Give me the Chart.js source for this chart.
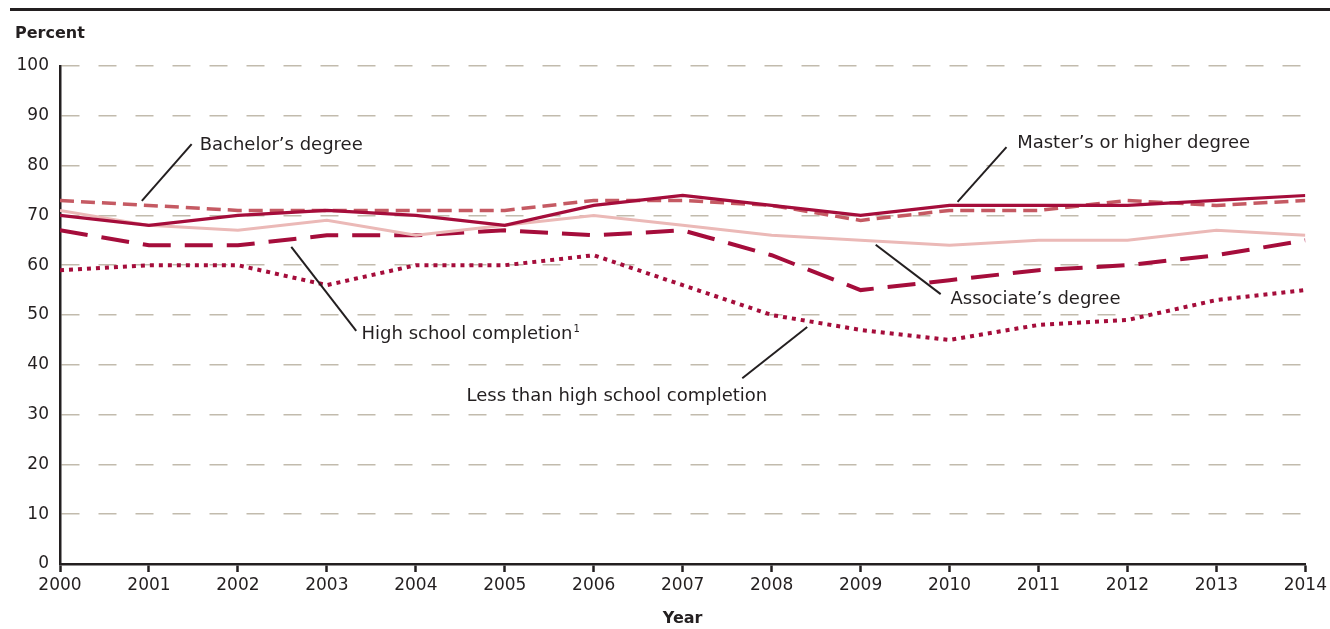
<!DOCTYPE html>
<html><head><meta charset="utf-8">
<script src="https://cdn.jsdelivr.net/npm/chart.js@4/dist/chart.umd.min.js"></script>
<style>html,body{margin:0;padding:0;background:#fff}#wrap{width:1330px;height:629px;position:relative}</style>
</head><body><div id="wrap"><canvas id="c" width="1330" height="629"></canvas></div>
<script>
const years = [2000,2001,2002,2003,2004,2005,2006,2007,2008,2009,2010,2011,2012,2013,2014];
const masters    = [70,68,70,71,70,68,72,74,72,70,72,72,72,73,74];
const bachelors  = [73,72,71,71,71,71,73,73,72,69,71,71,73,72,73];
const associates = [71,68,67,69,66,68,70,68,66,65,64,65,65,67,66];
const highSchool = [67,64,64,66,66,67,66,67,62,55,57,59,60,62,65];
const lessThanHS = [59,60,60,56,60,60,62,56,50,47,45,48,49,53,55];
const yTickValues = [0,10,20,30,40,50,60,70,80,90,100];
const yAxisLabel = 'Percent';
const xAxisLabel = 'Year';
// label text, anchor (year, value), leader line from/to (year, value)
const noteTexts = ["Bachelor\u2019s degree","High school completion","Master\u2019s or higher degree","Associate\u2019s degree","Less than high school completion"];
const noteAnchors = [[2001.57,84.1],[2003.39,46.2],[2010.76,84.5],[2010.01,53.2],[2004.57,33.7]];
const noteLines = [[2001.48,84.3,2000.92,72.9],[2002.60,63.7,2003.33,46.8],[2010.64,83.7,2010.09,72.7],[2009.17,64.1,2009.90,54.2],[2008.40,47.6,2007.67,37.3]];
const noteSup = ["","1","","",""];

const INK = '#231f20';
const FONT = '"DejaVu Sans", sans-serif';

const toXY = arr => years.map((yr,i)=>({x:yr,y:arr[i]}));

const notesPlugin = {
  id:'notes',
  afterDraw(chart){
    const {ctx, scales:{x,y}} = chart;
    ctx.save();
    ctx.fillStyle = INK;
    ctx.fillRect(10,8,1320,3);
    ctx.font = 'bold 16px ' + FONT;
    ctx.textBaseline = 'middle';
    ctx.textAlign = 'left';
    ctx.fillText(yAxisLabel, 15, 34);
    ctx.textAlign = 'center';
    ctx.fillText(xAxisLabel, (x.left+x.right)/2, 619);
    ctx.strokeStyle = INK; ctx.lineWidth = 2;
    noteLines.forEach(l=>{
      ctx.beginPath();
      ctx.moveTo(x.getPixelForValue(l[0]), y.getPixelForValue(l[1]));
      ctx.lineTo(x.getPixelForValue(l[2]), y.getPixelForValue(l[3]));
      ctx.stroke();
    });
    ctx.textAlign = 'left';
    noteTexts.forEach((t,i)=>{
      const px = x.getPixelForValue(noteAnchors[i][0]);
      const py = y.getPixelForValue(noteAnchors[i][1]);
      ctx.font = '18px ' + FONT;
      ctx.fillStyle = INK;
      ctx.fillText(t, px, py);
      if (noteSup[i]) {
        const w = ctx.measureText(t).width;
        ctx.font = '10px ' + FONT;
        ctx.fillText(noteSup[i], px + w + 1, py - 5);
      }
    });
    ctx.restore();
  }
};

new Chart(document.getElementById('c'), {
  type:'line',
  data:{ datasets:[
    {label:"Master's or higher degree", data:toXY(masters), borderColor:'#a50d3b', borderWidth:3.2},
    {label:"Bachelor's degree", data:toXY(bachelors), borderColor:'#c55a63', borderWidth:3.5, borderDash:[14,7]},
    {label:"Associate's degree", data:toXY(associates), borderColor:'#ebb9b7', borderWidth:3},
    {label:"High school completion", data:toXY(highSchool), borderColor:'#a50d3b', borderWidth:4, borderDash:[28,14]},
    {label:"Less than high school completion", data:toXY(lessThanHS), borderColor:'#a50d3b', borderWidth:4, borderDash:[4,5]}
  ]},
  options:{
    responsive:false, animation:false,
    layout:{padding:{top:66,right:23,bottom:0,left:0}},
    elements:{point:{radius:0,hoverRadius:0}, line:{tension:0, borderCapStyle:'butt', borderJoinStyle:'miter', fill:false}},
    plugins:{legend:{display:false}, tooltip:{enabled:false}},
    scales:{
      x:{type:'linear', min:2000, max:2014,
        afterFit(s){ s.height = 65; },
        afterBuildTicks(s){ s.ticks = years.map(v=>({value:v})); },
        ticks:{color:INK, font:{family:FONT,size:17}, padding:3, maxRotation:0, autoSkip:false, callback:v=>String(v)},
        grid:{drawOnChartArea:false, drawTicks:true, tickLength:8, tickColor:INK, tickWidth:2.5},
        border:{display:true, color:INK, width:2.5}
      },
      y:{min:0, max:100,
        afterFit(s){ s.width = 60; },
        afterBuildTicks(s){ s.ticks = yTickValues.map(v=>({value:v})); },
        ticks:{color:INK, font:{family:FONT,size:17}, padding:11},
        grid:{drawTicks:false, color:c=> c.tick && c.tick.value===0 ? 'rgba(0,0,0,0)' : '#c2bbad', lineWidth:1.5},
        border:{display:true, color:INK, width:2.5, dash:[18,19]}
      }
    }
  },
  plugins:[notesPlugin]
});
</script></body></html>
